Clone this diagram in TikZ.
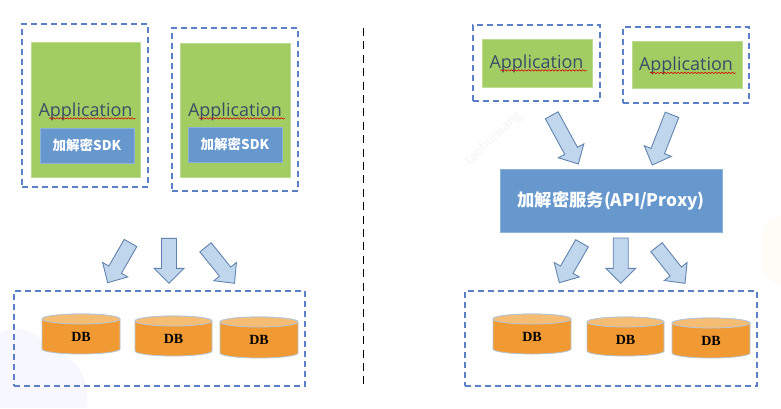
\documentclass[tikz,border=0pt]{standalone}
\usepackage{fontspec}
\setmainfont{Open Sans}
\newfontfamily\cjk{Noto Sans CJK SC}
\newfontfamily\dbfont{Liberation Serif}
\usetikzlibrary{calc,decorations.pathmorphing}
\definecolor{leaf}{HTML}{A1CD62}
\definecolor{steel}{HTML}{6698CE}
\definecolor{dashblue}{HTML}{5B80C8}
\definecolor{arrowfill}{HTML}{BFD6EC}
\definecolor{arrowline}{HTML}{6384B0}
\definecolor{barrelbody}{HTML}{F19A33}
\definecolor{barreltop}{HTML}{F5BC73}
\definecolor{barrelline}{HTML}{B5C6D6}
\definecolor{slate}{HTML}{3C4C66}
\tikzset{
  x=1pt,y=-1pt,
  dashframe/.style={draw=dashblue,line width=1.5pt,dash pattern=on 6pt off 4pt},
  appbox/.style={fill=leaf,draw=leaf!70!white,line width=.5pt},
  sdkbox/.style={fill=steel,draw=steel!75!white,line width=.5pt,text=white,font=\cjk\bfseries\fontsize{13.5}{15}\selectfont},
  servicebox/.style={fill=steel,draw=steel!75!white,line width=.5pt,text=white,font=\cjk\bfseries\fontsize{17.3}{20}\selectfont},
  apptext/.style={text=slate,font=\fontsize{18}{20}\selectfont,inner sep=0pt},
  dbtext/.style={font=\dbfont\bfseries\fontsize{14}{16}\selectfont,inner sep=0pt},
  blockarrow/.style={fill=arrowfill,draw=arrowline,line width=.9pt,line join=miter},
  squiggle/.style={draw=red!85!black,line width=.6pt,decorate,decoration={snake,amplitude=.7pt,segment length=3.4pt}},
}
% rectangle node given by its left, top, right and bottom edges, then name and text
\newcommand{\edgebox}[7]{%
  \pgfmathsetmacro{\bw}{#4-#2}\pgfmathsetmacro{\bh}{#5-#3}%
  \node[#1,anchor=center,inner sep=0pt,minimum width=\bw pt,minimum height=\bh pt] (#6)
    at ({(#2+#4)/2},{(#3+#5)/2}) {#7};}
% word with a spell-check underline, centred on the given point
\newcommand{\appword}[3]{%
  \node[apptext] (#1) at (#2,#3) {Application};
  \draw[squiggle] ($(#1.base west)+(11,2.2)$) -- ($(#1.base east)+(3,2.2)$);}
% database barrel with a lighter top ellipse
\newcommand{\barrel}[5]{%
  \pgfmathsetmacro{\rx}{(#3-#2)/2}%
  \pgfmathsetmacro{\cx}{(#3+#2)/2}%
  \draw[fill=barrelbody,draw=barrelline,line width=.8pt]
    (#2,#4+5) -- (#2,#5-5) arc[start angle=180,end angle=0,x radius=\rx,y radius=5]
    -- (#3,#4+5) arc[start angle=0,end angle=-180,x radius=\rx,y radius=5] -- cycle;
  \draw[fill=barreltop,draw=barrelline,line width=.8pt] (\cx,#4+5) ellipse[x radius=\rx,y radius=5];
  \node[dbtext] (#1) at (\cx,#4+22.5) {DB};}
% block arrow between two named points: shaft width, head width, head length
\newcommand{\bigarrow}[5]{%
  \pgfmathsetmacro{\sw}{#3/2}\pgfmathsetmacro{\hw}{#4/2}%
  \path ($(#2)!#5pt!(#1)$) coordinate (hb);
  \draw[blockarrow]
    ($(#1)!\sw pt!90:(#2)$) --
    ($(hb)!\sw pt!90:(#2)$) --
    ($(hb)!\hw pt!90:(#2)$) --
    (#2) --
    ($(hb)!\hw pt!-90:(#2)$) --
    ($(hb)!\sw pt!-90:(#2)$) --
    ($(#1)!\sw pt!-90:(#2)$) -- cycle;}
\begin{document}
\begin{tikzpicture}
\useasboundingbox (0,0) rectangle (781,408);
\fill[white] (0,0) rectangle (781,408);

% faint backdrop shapes
\fill[blue!3!white] (0,333) .. controls (12,325) and (38,328) .. (48,350)
  .. controls (70,352) and (90,370) .. (87,408) -- (0,408) -- cycle;
\fill[orange!3!white] (781,216) .. controls (770,216) and (762,226) .. (762,240)
  -- (762,270) .. controls (766,280) and (775,284) .. (781,284) -- cycle;
\node[rotate=43,text=gray!9,font=\fontsize{13}{15}\selectfont] (mark) at (493.5,138.5) {taohuixiang};

% divider
\coordinate (divtop) at (363.5,28);
\coordinate (divbot) at (363.5,386);
\draw[black,line width=1.3pt,dash pattern=on 8pt off 5.4pt] (divtop) -- (divbot);

% left column: applications embedding the SDK
\edgebox{dashframe}{22}{24}{148}{187}{frameA}{}
\edgebox{dashframe}{172}{28}{298}{191}{frameB}{}
\edgebox{appbox}{31}{42}{140}{177}{appA}{}
\edgebox{appbox}{180}{43}{290}{177}{appB}{}
\appword{wordA}{85.5}{111.5}
\appword{wordB}{235}{111.5}
\edgebox{sdkbox}{40}{128}{134}{163}{sdkA}{加解密SDK}
\edgebox{sdkbox}{188}{127}{282}{162}{sdkB}{加解密SDK}

% left column: database group
\edgebox{dashframe}{14}{291}{305}{386}{frameDBL}{}
\barrel{dbLa}{42}{120}{314}{354}
\barrel{dbLb}{135}{212}{316}{356}
\barrel{dbLc}{220}{298}{317}{358}

\coordinate (la0) at (130.5,243);  \coordinate (la1) at (107.7,282.7);
\coordinate (lb0) at (169,238.3);  \coordinate (lb1) at (169,283.3);
\coordinate (lc0) at (205.5,247.3);\coordinate (lc1) at (234.5,283.3);
\bigarrow{la0}{la1}{14.5}{29}{15}
\bigarrow{lb0}{lb1}{15}{30}{15}
\bigarrow{lc0}{lc1}{14.5}{29}{15}

% right column: applications behind a service
\edgebox{dashframe}{473}{25}{600}{101}{frameC}{}
\edgebox{dashframe}{623}{27}{749}{103}{frameD}{}
\edgebox{appbox}{482}{39}{592}{87}{appC}{}
\edgebox{appbox}{632}{41}{742}{88}{appD}{}
\appword{wordC}{536.5}{63.5}
\appword{wordD}{686}{66}
\edgebox{servicebox}{500}{169}{722}{232}{service}{加解密服务(API/Proxy)}

\coordinate (ra0) at (551.7,115.3); \coordinate (ra1) at (578.3,164);
\coordinate (rb0) at (672,114.8);   \coordinate (rb1) at (652.3,165);
\bigarrow{ra0}{ra1}{14.5}{29}{15}
\bigarrow{rb0}{rb1}{14.5}{29}{15}

% right column: database group
\edgebox{dashframe}{465}{291}{757}{386}{frameDBR}{}
\barrel{dbRa}{493}{571}{314}{354}
\barrel{dbRb}{587}{664}{317}{356}
\barrel{dbRc}{672}{750}{318}{358}

\coordinate (rc0) at (582,243.3);   \coordinate (rc1) at (559.3,282.7);
\coordinate (rd0) at (620.7,238);   \coordinate (rd1) at (620.7,283.3);
\coordinate (re0) at (656.5,247.2); \coordinate (re1) at (685,283.3);
\bigarrow{rc0}{rc1}{14.5}{29}{15}
\bigarrow{rd0}{rd1}{15}{30}{15}
\bigarrow{re0}{re1}{14.5}{29}{15}
\end{tikzpicture}
\end{document}
